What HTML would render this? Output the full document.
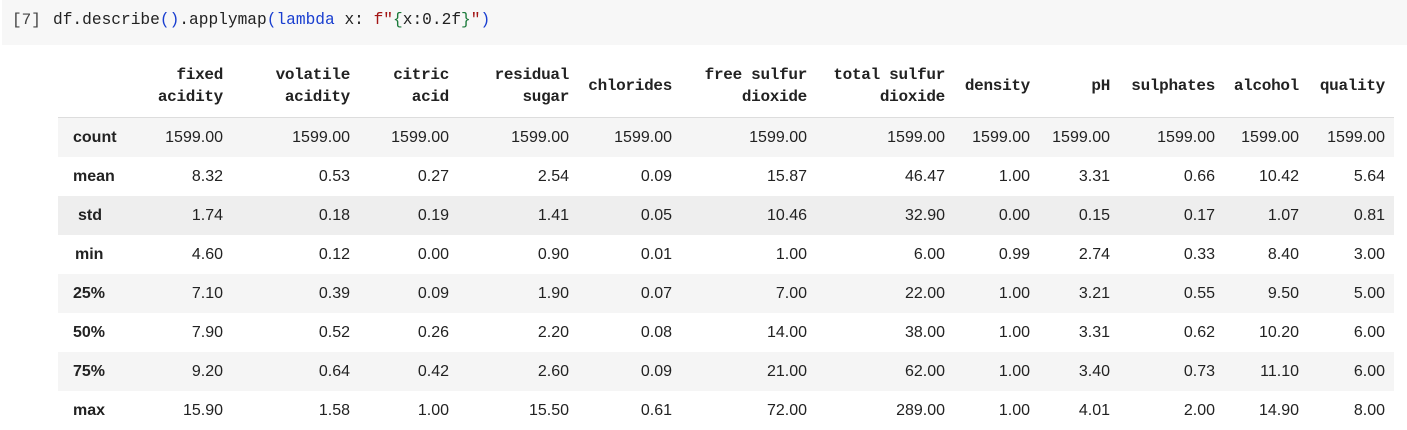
<!DOCTYPE html>
<html><head><meta charset="utf-8"><style>
body{margin:0;width:1407px;height:430px;background:#fff;overflow:hidden;font-family:"Liberation Sans",Arial,sans-serif;}
.code{position:absolute;left:2px;top:0;width:1405px;height:45px;background:#f7f7f7;}
.code span.n{position:absolute;left:10px;top:11px;font:16px "Liberation Mono",monospace;color:#444;}
.code .src{position:absolute;left:51px;top:11px;font:16.2px "Liberation Mono",monospace;color:#222;white-space:pre;}
.b{color:#1a3fd0}.g{color:#1b7a3a}.s{color:#a31515}
table{position:absolute;left:58px;top:50px;border-collapse:collapse;table-layout:fixed;}
th{font:bold 16px/22px "Liberation Mono",monospace;color:#222;text-align:right;padding:4px 9px 0 0;height:63px;vertical-align:middle;border-bottom:1px solid #ddd;letter-spacing:-0.3px;}
td{font:16px "Liberation Sans",Arial,sans-serif;color:#222;text-align:right;padding:0 9px 0 0;height:39px;}
td.i{text-align:left;padding-left:15px;font-weight:bold;}
tr.sh td{background:#f5f5f5}
tr.hv td{background:#eeeeee}
</style></head><body>
<div class="code"><span class="n">[7]</span><span class="src">df.describe<span class="b">()</span>.applymap<span class="b">(lambda</span> x: <span class="s">f"</span><span class="g">{</span>x:0.2f<span class="g">}</span><span class="s">"</span><span class="b">)</span></span></div>
<table>
<colgroup><col style="width:74px"><col style="width:100px"><col style="width:127px"><col style="width:99px"><col style="width:120px"><col style="width:103px"><col style="width:135px"><col style="width:138px"><col style="width:85px"><col style="width:80px"><col style="width:105px"><col style="width:84px"><col style="width:86px"></colgroup>
<tr><th></th><th>fixed<br>acidity</th><th>volatile<br>acidity</th><th>citric<br>acid</th><th>residual<br>sugar</th><th>chlorides</th><th>free sulfur<br>dioxide</th><th>total sulfur<br>dioxide</th><th>density</th><th>pH</th><th>sulphates</th><th>alcohol</th><th>quality</th></tr>
<tr class="sh"><td class="i">count</td><td>1599.00</td><td>1599.00</td><td>1599.00</td><td>1599.00</td><td>1599.00</td><td>1599.00</td><td>1599.00</td><td>1599.00</td><td>1599.00</td><td>1599.00</td><td>1599.00</td><td>1599.00</td></tr>
<tr><td class="i">mean</td><td>8.32</td><td>0.53</td><td>0.27</td><td>2.54</td><td>0.09</td><td>15.87</td><td>46.47</td><td>1.00</td><td>3.31</td><td>0.66</td><td>10.42</td><td>5.64</td></tr>
<tr class="hv"><td class="i" style="padding-left:20px">std</td><td>1.74</td><td>0.18</td><td>0.19</td><td>1.41</td><td>0.05</td><td>10.46</td><td>32.90</td><td>0.00</td><td>0.15</td><td>0.17</td><td>1.07</td><td>0.81</td></tr>
<tr><td class="i" style="padding-left:17px">min</td><td>4.60</td><td>0.12</td><td>0.00</td><td>0.90</td><td>0.01</td><td>1.00</td><td>6.00</td><td>0.99</td><td>2.74</td><td>0.33</td><td>8.40</td><td>3.00</td></tr>
<tr class="sh"><td class="i">25%</td><td>7.10</td><td>0.39</td><td>0.09</td><td>1.90</td><td>0.07</td><td>7.00</td><td>22.00</td><td>1.00</td><td>3.21</td><td>0.55</td><td>9.50</td><td>5.00</td></tr>
<tr><td class="i">50%</td><td>7.90</td><td>0.52</td><td>0.26</td><td>2.20</td><td>0.08</td><td>14.00</td><td>38.00</td><td>1.00</td><td>3.31</td><td>0.62</td><td>10.20</td><td>6.00</td></tr>
<tr class="sh"><td class="i">75%</td><td>9.20</td><td>0.64</td><td>0.42</td><td>2.60</td><td>0.09</td><td>21.00</td><td>62.00</td><td>1.00</td><td>3.40</td><td>0.73</td><td>11.10</td><td>6.00</td></tr>
<tr><td class="i">max</td><td>15.90</td><td>1.58</td><td>1.00</td><td>15.50</td><td>0.61</td><td>72.00</td><td>289.00</td><td>1.00</td><td>4.01</td><td>2.00</td><td>14.90</td><td>8.00</td></tr>
</table>
</body></html>
